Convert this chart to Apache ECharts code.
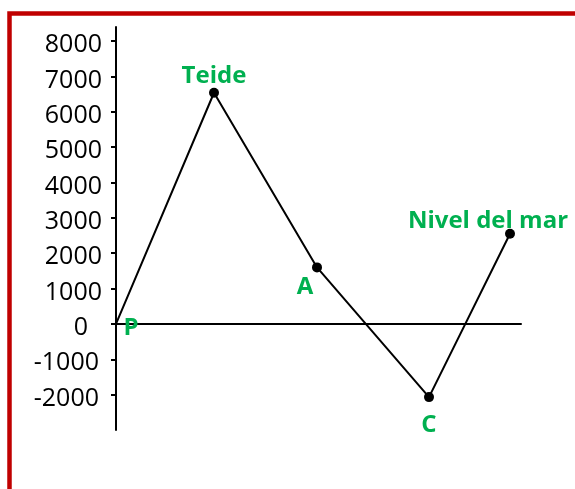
<!DOCTYPE html>
<html>
<head>
<meta charset="utf-8">
<script src="https://cdn.jsdelivr.net/npm/echarts@6/dist/echarts.min.js"></script>
<style>
    html, body { margin: 0; padding: 0; background: #fff; }
    #chart { width: 575px; height: 489px; }
</style>
</head>
<body>
<div id="chart"></div>
<script>
// points along the route
const pointNames = ['P', 'Teide', 'A', 'C', 'Nivel del mar']
const distances = [0, 98, 201, 313, 394]
const altitudes = [0, 6540, 1600, -2070, 2550]
const yTickValues = [-2000, -1000, 0, 1000, 2000, 3000, 4000, 5000, 6000, 7000, 8000]

const green = '#00B050'
const labelFont = '"Open Sans", "Noto Sans", sans-serif'

// where each name sits relative to its point
const labelOffsets = {
    'P': [15, 4],
    'Teide': [0, -17],
    'A': [-12, 20],
    'C': [0, 28],
    'Nivel del mar': [-22, -13]
}

const chart = echarts.init(document.getElementById('chart'))

const seriesData = pointNames.map((name, i) => ({
    name: name,
    value: [distances[i], altitudes[i]],
    symbolSize: name === 'P' ? 0 : 10,
    label: {
        show: true,
        position: 'inside',
        offset: labelOffsets[name],
        formatter: '{b}',
        color: green,
        fontFamily: labelFont,
        fontWeight: 'bold',
        fontSize: 24
    }
}))

chart.setOption({
    animation: false,
    graphic: [{
        type: 'rect',
        shape: { x: 9.5, y: 13.5, width: 800, height: 800 },
        style: { fill: 'none', stroke: '#C00000', lineWidth: 4.5 },
        silent: true
    }],
    grid: {
        left: 112,
        right: 54,
        top: 27,
        bottom: 59
    },
    xAxis: {
        type: 'value',
        min: -4,
        max: 405,
        axisLine: {
            onZero: true,
            lineStyle: { color: '#000', width: 2 }
        },
        axisTick: { show: false },
        axisLabel: { show: false },
        splitLine: { show: false }
    },
    yAxis: {
        type: 'value',
        min: -3000,
        max: 8400,
        axisLine: {
            show: true,
            onZero: true,
            lineStyle: { color: '#000', width: 2 }
        },
        axisTick: {
            show: true,
            customValues: yTickValues,
            length: 5,
            lineStyle: { color: '#000', width: 2 }
        },
        axisLabel: {
            customValues: yTickValues,
            margin: 10,
            padding: [8, 0, 0, 0],
            color: '#000',
            fontFamily: labelFont,
            fontSize: 25,
            formatter: v => {
                if (v === 0) return '{z|0}'
                if (v < 0) return '{n|' + v + '}'
                return String(v)
            },
            rich: {
                z: { padding: [0, 14, 0, 0], color: '#000', fontFamily: labelFont, fontSize: 25 },
                n: { padding: [0, 3, 0, 0], color: '#000', fontFamily: labelFont, fontSize: 25 }
            }
        },
        splitLine: { show: false }
    },
    series: [{
        type: 'line',
        data: seriesData,
        symbol: 'circle',
        itemStyle: { color: '#000' },
        lineStyle: { color: '#000', width: 2 }
    }]
})
</script>
</body>
</html>
